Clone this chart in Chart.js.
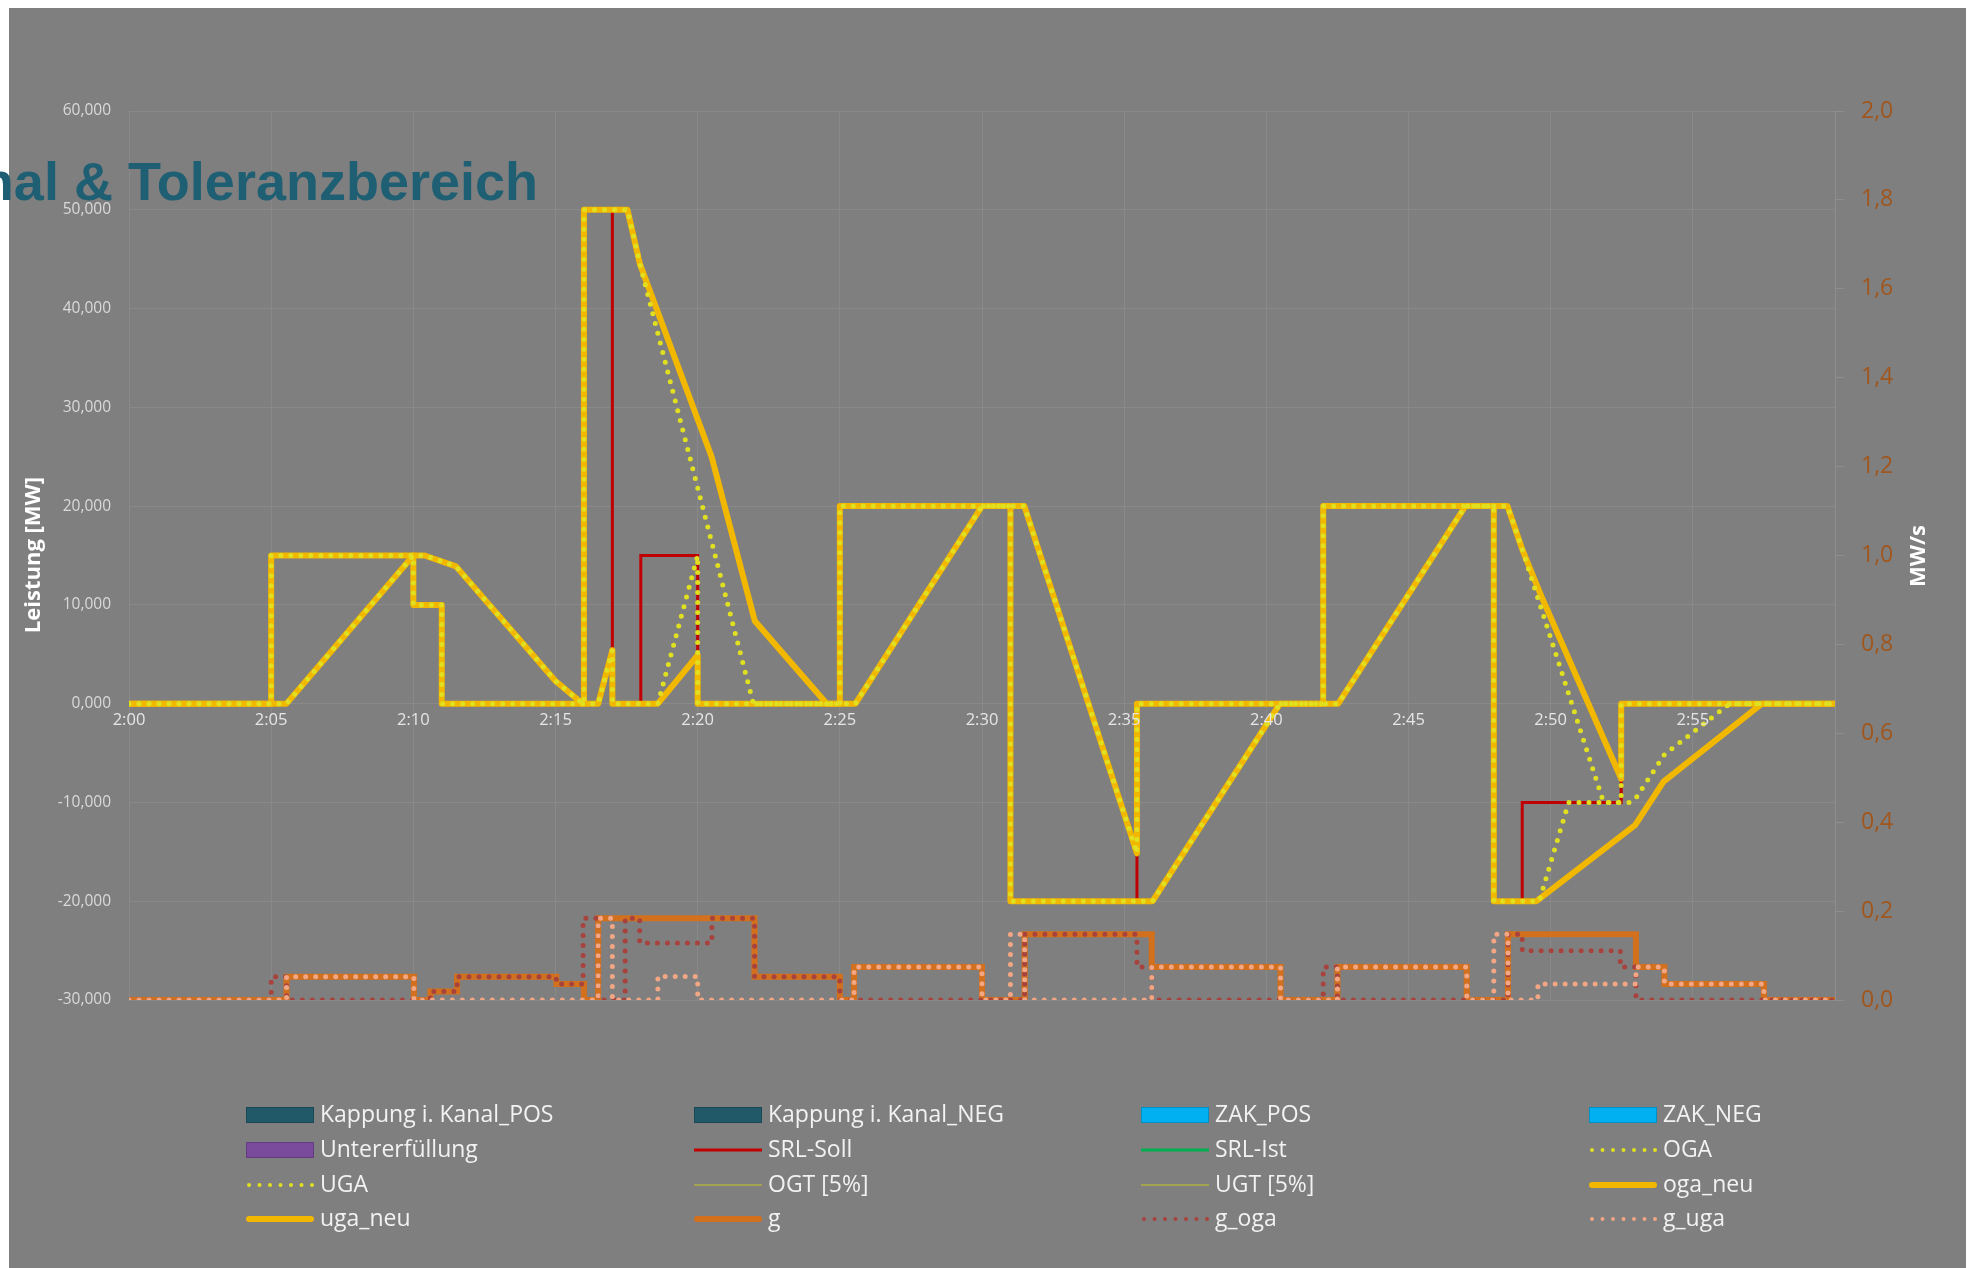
<!DOCTYPE html>
<html><head><meta charset="utf-8">
<script src="https://cdn.jsdelivr.net/npm/chart.js@4.4.1/dist/chart.umd.min.js"></script>
<style>html,body{margin:0;padding:0;background:#fff;overflow:hidden}canvas{display:block}</style>
</head><body>
<canvas id="c" width="1972" height="1268"></canvas>
<script>
// ---- data (x = minutes after 2:00, values in MW / MW/s) ----
const xTickLabels = ['2:00','2:05','2:10','2:15','2:20','2:25','2:30','2:35','2:40','2:45','2:50','2:55'];
const titleText = 'Kanal & Toleranzbereich';
const leftTitle = 'Leistung [MW]';
const rightTitle = 'MW/s';
const seriesNames = ['Kappung i. Kanal_POS','Kappung i. Kanal_NEG','ZAK_POS','ZAK_NEG','Untererfüllung','SRL-Soll','SRL-Ist','OGA','UGA','OGT [5%]','UGT [5%]','oga_neu','uga_neu','g','g_oga','g_uga'];

const kappPos = [], kappNeg = [], zakPos = [], zakNeg = [], unterErf = [];
const srlIst = [], ogt = [], ugt = [];

const sollX = [0, 5, 10, 11, 16, 17, 18, 20, 25, 31, 35.45, 42, 48, 49, 52.48, 60];
const sollY = [0, 15, 10, 0, 50, 0, 15, 0, 20, -20, 0, 20, -20, -10, 0, 0];

const ogaNeuX = [0, 5, 5, 10, 10.4, 11.5, 15, 15.95, 16, 16, 17.53, 17.97, 20.49, 22.01, 24.54, 25, 25, 31.49, 35.45, 35.45, 42, 42, 48.48, 48.99, 49.63, 52.45, 52.48, 52.48, 60];
const ogaNeuY = [0, 0, 15, 15, 15, 13.9, 2.3, 0, 0, 50, 50, 44.5, 25, 8.36, 0, 0, 20, 20, -15.15, 0, 0, 20, 20, 15.7, 11.16, -7.4, -7.6, 0, 0];

const ugaNeuX = [0, 5.54, 10, 10, 11, 11, 16.5, 17, 17, 18.6, 20, 20, 25.55, 30, 31, 31, 36, 40.48, 42.53, 47, 48, 48, 49.5, 52.97, 53.97, 57.43, 60];
const ugaNeuY = [0, 0, 15, 10, 10, 0, 0, 5.4, 0, 0, 4.9, 0, 0, 20, 20, -20, -20, 0, 0, 20, 20, -20, -20, -12.3, -7.9, 0, 0];

const ogaX = [0, 5, 5, 10, 10.4, 11.5, 15, 15.95, 16, 16, 17.53, 17.97, 21.96, 25, 25, 31.49, 35.45, 35.45, 42, 42, 48.48, 48.99, 51.86, 52.48, 52.48, 60];
const ogaY = [0, 0, 15, 15, 15, 13.9, 2.3, 0, 0, 50, 50, 44.5, 0, 0, 20, 20, -15.15, 0, 0, 20, 20, 15.7, -10, -10, 0, 0];

const ugaX = [0, 5.54, 10, 10, 11, 11, 16.5, 17, 17, 18.6, 20, 20, 25.55, 30, 31, 31, 36, 40.48, 42.53, 47, 48, 48, 49.6, 50.63, 52.8, 53.0, 54.0, 56.3, 60];
const ugaY = [0, 0, 15, 10, 10, 0, 0, 5.4, 0, 0, 15, 0, 0, 20, 20, -20, -20, 0, 0, 20, 20, -20, -20, -10, -10, -9.55, -5.15, 0, 0];

const gX = [0, 5.54, 10.02, 10.6, 11.54, 15.03, 16.0, 16.5, 22.0, 25.0, 25.5, 30.0, 31.5, 35.97, 40.5, 42.5, 47.05, 48.5, 53.0, 54.0, 57.5, 60];
const gY = [0, 0.0525, 0, 0.019, 0.0525, 0.036, 0, 0.184, 0.0525, 0, 0.074, 0, 0.148, 0.074, 0, 0.074, 0, 0.148, 0.074, 0.036, 0, 0];

const gOgaX = [0, 5.0, 5.54, 10.6, 11.54, 15.03, 15.97, 16.5, 17.45, 17.96, 20.5, 22.0, 25.0, 31.5, 35.45, 35.97, 42.0, 42.5, 48.5, 49.0, 52.45, 53.0, 60];
const gOgaY = [0, 0.0525, 0, 0.019, 0.0525, 0.036, 0.184, 0, 0.184, 0.128, 0.184, 0.0525, 0, 0.148, 0.074, 0, 0.074, 0, 0.148, 0.111, 0.074, 0, 0];

const gUgaX = [0, 5.54, 10.02, 16.5, 17.0, 18.6, 20.0, 25.5, 30.0, 31.0, 31.5, 35.97, 40.5, 42.5, 47.05, 48.0, 48.5, 49.55, 53.0, 54.0, 57.5, 60];
const gUgaY = [0, 0.0525, 0, 0.184, 0, 0.053, 0, 0.074, 0, 0.148, 0, 0.074, 0, 0.074, 0, 0.148, 0, 0.036, 0.074, 0.036, 0, 0];

// ---- build ----
const pts = (xs, ys) => xs.map((x, i) => ({x: x, y: ys[i]}));
const W = 1972, H = 1268;
const PLOT_L = 129, PLOT_R = 1835, PLOT_T = 111, PLOT_B = 1000;

function lineDs(label, data, color, width, opts) {
  return Object.assign({type: 'line', label, data, borderColor: color, backgroundColor: color,
    borderWidth: width, pointRadius: 0, pointHoverRadius: 0, tension: 0, fill: false,
    yAxisID: 'y', legendKind: 'line'}, opts || {});
}
const dotted = {borderDash: [0, 10], borderCapStyle: 'round', legendKind: 'dots'};

const datasets = [
  {type: 'bar', label: seriesNames[0], data: kappPos, backgroundColor: '#215968', borderColor: '#1a4855', yAxisID: 'y', order: 30},
  {type: 'bar', label: seriesNames[1], data: kappNeg, backgroundColor: '#215968', borderColor: '#1a4855', yAxisID: 'y', order: 30},
  {type: 'bar', label: seriesNames[2], data: zakPos, backgroundColor: '#00B0F0', borderColor: '#0090c8', yAxisID: 'y', order: 30},
  {type: 'bar', label: seriesNames[3], data: zakNeg, backgroundColor: '#00B0F0', borderColor: '#0090c8', yAxisID: 'y', order: 30},
  {type: 'bar', label: seriesNames[4], data: unterErf, backgroundColor: '#7A4A9C', borderColor: '#643c80', yAxisID: 'y', order: 30},
  lineDs(seriesNames[5], pts(sollX, sollY), '#C00000', 3, {stepped: true, order: 20}),
  lineDs(seriesNames[6], srlIst, '#00B050', 3, {order: 19}),
  lineDs(seriesNames[7], pts(ogaX, ogaY), '#E0E020', 5, Object.assign({order: 6}, dotted)),
  lineDs(seriesNames[8], pts(ugaX, ugaY), '#E0E020', 5, Object.assign({order: 6}, dotted)),
  lineDs(seriesNames[9], ogt, '#B0B040', 1.5, {order: 18}),
  lineDs(seriesNames[10], ugt, '#B0B040', 1.5, {order: 18}),
  lineDs(seriesNames[11], pts(ogaNeuX, ogaNeuY), '#F2B800', 6, {order: 10, borderJoinStyle: 'round'}),
  lineDs(seriesNames[12], pts(ugaNeuX, ugaNeuY), '#F2B800', 6, {order: 10, borderJoinStyle: 'round'}),
  lineDs(seriesNames[13], pts(gX, gY), '#D2701E', 6, {stepped: true, order: 5, yAxisID: 'y2'}),
  lineDs(seriesNames[14], pts(gOgaX, gOgaY), '#A8423C', 5, Object.assign({stepped: true, order: 3, yAxisID: 'y2'}, dotted)),
  lineDs(seriesNames[15], pts(gUgaX, gUgaY), '#F2A684', 5, Object.assign({stepped: true, order: 2, yAxisID: 'y2'}, dotted))
];

const LEG_COLS = [246, 694, 1141, 1589];
const LEG_ROWS = [1115, 1150, 1185, 1219];

const decor = {
  id: 'decor',
  beforeDraw(chart) {
    const ctx = chart.ctx;
    ctx.save();
    ctx.fillStyle = '#ffffff';
    ctx.fillRect(0, 0, W, H);
    ctx.fillStyle = '#7f7f7f';
    ctx.fillRect(9, 8, 1957, H - 8);
    ctx.restore();
  },
  afterDraw(chart) {
    const ctx = chart.ctx;
    ctx.save();
    // title (clipped on the left as in the original)
    ctx.font = 'bold 54px "Liberation Sans", Arial, sans-serif';
    ctx.fillStyle = '#1f5f73';
    ctx.textAlign = 'right';
    ctx.textBaseline = 'alphabetic';
    ctx.fillText(titleText, 538, 200);
    // axis titles
    ctx.fillStyle = '#ffffff';
    ctx.font = 'bold 22px "Open Sans", sans-serif';
    ctx.textAlign = 'center';
    ctx.textBaseline = 'middle';
    ctx.save(); ctx.translate(34, 555); ctx.rotate(-Math.PI / 2); ctx.fillText(leftTitle, 0, 0); ctx.restore();
    ctx.save(); ctx.translate(1919, 556); ctx.rotate(-Math.PI / 2); ctx.fillText(rightTitle, 0, 0); ctx.restore();
    // legend
    ctx.font = '23px "Open Sans", sans-serif';
    ctx.textAlign = 'left';
    chart.data.datasets.forEach((ds, i) => {
      const x0 = LEG_COLS[i % 4], yc = LEG_ROWS[Math.floor(i / 4)];
      if (ds.type === 'bar') {
        ctx.fillStyle = ds.backgroundColor;
        ctx.fillRect(x0, yc - 8, 68, 16);
        ctx.strokeStyle = ds.borderColor; ctx.lineWidth = 1;
        ctx.strokeRect(x0 + 0.5, yc - 7.5, 67, 15);
      } else {
        ctx.save();
        ctx.strokeStyle = ds.borderColor;
        const isDots = ds.legendKind === 'dots';
        const thick = !isDots && ds.borderWidth >= 5;
        ctx.lineWidth = isDots ? 4 : ds.borderWidth;
        ctx.lineCap = (isDots || thick) ? 'round' : 'butt';
        if (isDots) ctx.setLineDash([0, 10.5]);
        ctx.beginPath();
        ctx.moveTo(x0 + ((isDots || thick) ? 3 : 0), yc);
        ctx.lineTo(x0 + (thick ? 65 : 68), yc);
        ctx.stroke();
        ctx.restore();
      }
      ctx.fillStyle = '#f2f2f2';
      ctx.textBaseline = 'middle';
      ctx.fillText(ds.label, x0 + 74, yc);
    });
    ctx.restore();
  }
};

const fmtLeft = v => Number(v).toFixed(3).replace('.', ',');
const fmtRight = v => Number(v).toFixed(1).replace('.', ',');

new Chart(document.getElementById('c'), {
  type: 'line',
  data: {datasets},
  options: {
    responsive: false,
    animation: false,
    devicePixelRatio: 1,
    layout: {padding: {left: 0, right: 0, top: PLOT_T, bottom: H - PLOT_B}},
    plugins: {legend: {display: false}, title: {display: false}, tooltip: {enabled: false}},
    scales: {
      x: {
        type: 'linear', min: 0, max: 60, offset: false,
        position: {y: 0},
        grid: {color: '#898989', lineWidth: 1, drawTicks: false, offset: false},
        border: {display: false},
        ticks: {z: 1, stepSize: 5, autoSkip: false, maxRotation: 0, padding: 7, color: '#e6e6e6',
          font: {family: '"Open Sans", sans-serif', size: 16.5},
          callback: v => (v % 5 === 0 && v < 60) ? xTickLabels[v / 5] : ''}
      },
      y: {
        type: 'linear', position: 'left', min: -30, max: 60,
        afterFit: s => { s.width = PLOT_L; },
        grid: {color: '#898989', lineWidth: 1, drawTicks: false},
        border: {display: false},
        ticks: {stepSize: 10, padding: 18, color: '#dadada',
          font: {family: '"Open Sans", sans-serif', size: 15.5}, callback: fmtLeft}
      },
      y2: {
        type: 'linear', position: 'right', min: 0, max: 2,
        afterFit: s => { s.width = W - PLOT_R; },
        grid: {drawOnChartArea: false, color: '#8e8e8e', drawTicks: true, tickLength: 9},
        border: {display: true, color: '#8e8e8e', width: 1},
        ticks: {stepSize: 0.2, padding: 17, color: '#a0561c',
          font: {family: '"Open Sans", sans-serif', size: 23}, callback: fmtRight}
      }
    }
  },
  plugins: [decor]
});
</script>
</body></html>
